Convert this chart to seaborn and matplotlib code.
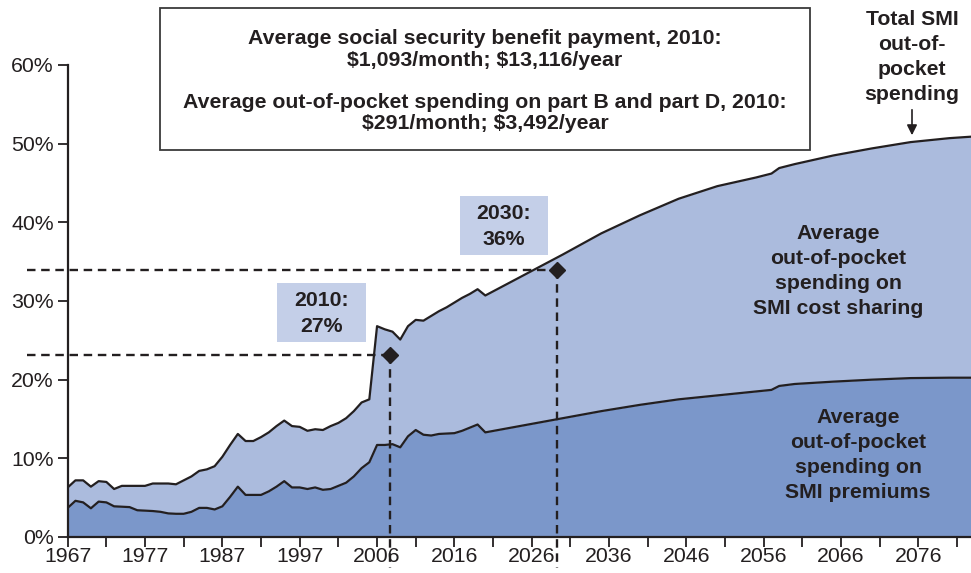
import matplotlib
matplotlib.use("Agg")
import matplotlib.pyplot as plt
import matplotlib.patches as mpatches
import seaborn as sns
import pandas as pd

# ---------------- data ----------------
years = list(range(1966, 2021)) + [2025, 2030, 2035, 2040, 2045, 2050, 2055, 2057, 2058,
                                   2060, 2065, 2070, 2075, 2080, 2083]
total_smi = [6.3, 7.2, 7.2, 6.4, 7.1, 7.0, 6.1, 6.5, 6.5, 6.5,
             6.5, 6.8, 6.8, 6.8, 6.7, 7.2, 7.7, 8.4, 8.6, 9.0,
             10.2, 11.7, 13.1, 12.2, 12.2, 12.7, 13.3, 14.1, 14.8, 14.1,
             14.0, 13.5, 13.7, 13.6, 14.1, 14.5, 15.1, 16.0, 17.1, 17.5,
             26.8, 26.4, 26.1, 25.1, 26.8, 27.6, 27.5, 28.1, 28.7, 29.2,
             29.8, 30.4, 30.9, 31.5, 30.7,
             33.3, 35.9, 38.6, 40.9, 43.0, 44.6, 45.7, 46.2, 46.9,
             47.4, 48.5, 49.4, 50.2, 50.7, 50.9]
premiums = [3.7, 4.6, 4.4, 3.65, 4.5, 4.4, 3.9, 3.85, 3.8, 3.4,
            3.35, 3.3, 3.2, 3.0, 2.95, 2.95, 3.2, 3.7, 3.7, 3.5,
            3.9, 5.1, 6.4, 5.35, 5.35, 5.35, 5.8, 6.4, 7.1, 6.3,
            6.3, 6.1, 6.3, 6.0, 6.1, 6.5, 6.9, 7.7, 8.75, 9.5,
            11.7, 11.7, 11.8, 11.4, 12.8, 13.6, 13.0, 12.9, 13.1, 13.15,
            13.2, 13.5, 13.9, 14.3, 13.3,
            14.2, 15.1, 16.0, 16.8, 17.5, 18.0, 18.5, 18.7, 19.2,
            19.45, 19.75, 20.0, 20.2, 20.25, 20.25]

marker_x = [2007.7, 2029.3]
marker_y = [23.1, 34.0]
marker_labels = ["2010:\n27%", "2030:\n36%"]

xtick_pos = [1966, 1976, 1986, 1996, 2006, 2016, 2026, 2036, 2046, 2056, 2066, 2076]
xtick_labels = ["1967", "1977", "1987", "1997", "2006", "2016", "2026", "2036",
                "2046", "2056", "2066", "2076"]
ytick_vals = [0, 10, 20, 30, 40, 50, 60]

box_lines = ["Average social security benefit payment, 2010:",
             "$1,093/month; $13,116/year",
             "Average out-of-pocket spending on part B and part D, 2010:",
             "$291/month; $3,492/year"]

# ---------------- style ----------------
sns.set_style("white")
plt.rcParams["font.family"] = ["Liberation Sans", "DejaVu Sans"]
TXT = "#231f20"
C_LOW = "#7b97ca"
C_UP = "#abbbdd"
C_BOX = "#c4cfe8"
FS = 15.3

W, H = 971, 573
fig = plt.figure(figsize=(W / 100, H / 100), dpi=100)
ax = fig.add_axes([67.7 / W, 1 - 537 / H, (971 - 67.7) / W, (537 - 65) / H])

df = pd.DataFrame({"year": years, "total": total_smi, "premiums": premiums})

ax.fill_between(df["year"], 0, df["premiums"], color=C_LOW, lw=0, zorder=1)
ax.fill_between(df["year"], df["premiums"], df["total"], color=C_UP, lw=0, zorder=1)
sns.lineplot(data=df, x="year", y="premiums", color=TXT, lw=1.6, ax=ax, zorder=3)
sns.lineplot(data=df, x="year", y="total", color=TXT, lw=1.6, ax=ax, zorder=3)

ax.set_xlim(1966, 2082.8)
ax.set_ylim(0, 60)

# dashed guide lines
for mx, my in zip(marker_x, marker_y):
    ax.plot([1960.7, mx], [my, my], ls=(0, (3.6, 2.4)), color=TXT, lw=1.7,
            clip_on=False, zorder=4)
    ax.plot([mx, mx], [my, -3.9], ls=(0, (3.6, 2.4)), color=TXT, lw=1.7,
            clip_on=False, zorder=4)
ax.plot(marker_x, marker_y, ls="none", marker="D", ms=8.5, color=TXT, zorder=5)

# axes styling
ax.set_xticks(xtick_pos)
ax.set_xticklabels(xtick_labels)
ax.set_xticks([p + 5 for p in xtick_pos], minor=True)
ax.set_yticks(ytick_vals)
ax.set_yticklabels([f"{v}%" for v in ytick_vals])
ax.tick_params(axis="both", which="both", direction="out", length=7, width=1.3,
               color=TXT, labelcolor=TXT, labelsize=15.3, bottom=True, left=True)
ax.tick_params(axis="x", pad=0.5)
ax.tick_params(axis="y", pad=3)
ax.set_xlabel("")
ax.set_ylabel("")
for s in ["top", "right"]:
    ax.spines[s].set_visible(False)
for s in ["left", "bottom"]:
    ax.spines[s].set_color(TXT)
    ax.spines[s].set_linewidth(1.6)
ax.set_facecolor("white")


def px(x, y):
    return x / W, 1 - y / H


# top info box
fig.patches.append(mpatches.Rectangle(px(160, 150), (810 - 160) / W, (150 - 8) / H,
                                      transform=fig.transFigure, facecolor="white",
                                      edgecolor="#3a3a3a", lw=1.3, zorder=10))
for txt, yy in zip(box_lines, [38, 60, 102, 124]):
    fig.text(*px(485, yy), txt, ha="center", va="center", fontsize=FS,
             fontweight="bold", color=TXT, zorder=11, parse_math=False)

# marker label boxes
for (x0, x1, y0, y1), lab in zip([(277, 366, 283, 342), (460, 548, 196, 255)], marker_labels):
    fig.patches.append(mpatches.Rectangle(px(x0, y1), (x1 - x0) / W, (y1 - y0) / H,
                                          transform=fig.transFigure, facecolor=C_BOX,
                                          edgecolor="none", zorder=10))
    fig.text(*px((x0 + x1) / 2, (y0 + y1) / 2 + 1), lab, ha="center", va="center",
             fontsize=FS, fontweight="bold", color=TXT, linespacing=1.45, zorder=11)

# area labels
fig.text(*px(912, 57), "Total SMI\nout-of-\npocket\nspending", ha="center", va="center",
         fontsize=FS, fontweight="bold", color=TXT, linespacing=1.38, zorder=11)
fig.text(*px(838, 271), "Average\nout-of-pocket\nspending on\nSMI cost sharing",
         ha="center", va="center", fontsize=FS, fontweight="bold", color=TXT,
         linespacing=1.38, zorder=11)
fig.text(*px(858, 455), "Average\nout-of-pocket\nspending on\nSMI premiums",
         ha="center", va="center", fontsize=FS, fontweight="bold", color=TXT,
         linespacing=1.38, zorder=11)

# arrow
fig.add_artist(matplotlib.patches.FancyArrowPatch(px(912, 107), px(912, 138),
                                                  transform=fig.transFigure,
                                                  arrowstyle="-|>,head_length=6,head_width=3",
                                                  color=TXT, lw=1.2, zorder=12))

fig.savefig("out.png", dpi=100, facecolor="white")
